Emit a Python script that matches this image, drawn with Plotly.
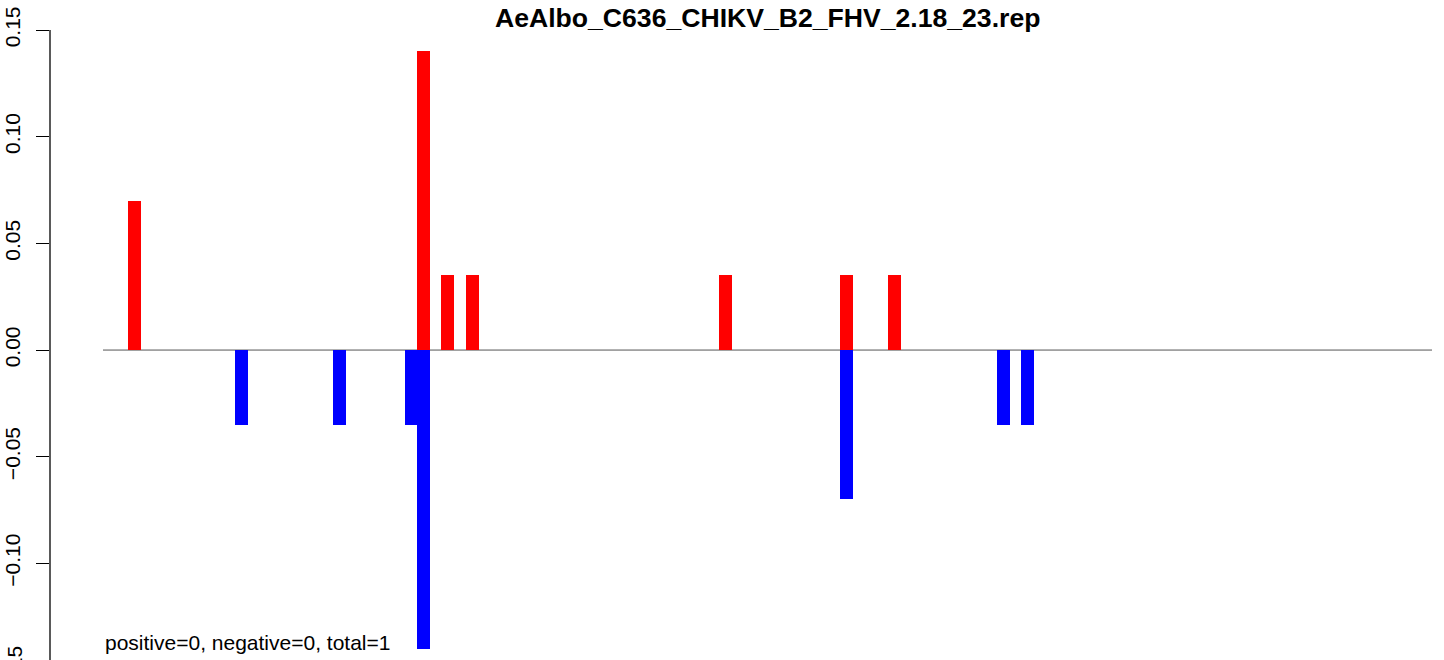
import plotly.graph_objects as go

title = "AeAlbo_C636_CHIKV_B2_FHV_2.18_23.rep"
note = "positive=0, negative=0, total=1"
seq_len = 1400

pos_x = [33, 338, 363, 389, 656, 783, 834]
pos_y = [0.07, 0.14, 0.035, 0.035, 0.035, 0.035, 0.035]
neg_x = [146, 249, 325, 338, 783, 949, 974]
neg_y = [-0.035, -0.035, -0.035, -0.14, -0.07, -0.035, -0.035]

y_ticks = [-0.15, -0.10, -0.05, 0.00, 0.05, 0.10, 0.15]
y_ticktext = ["\u22120.15", "\u22120.10", "\u22120.05", "0.00", "0.05", "0.10", "0.15"]

bar_w = 13.7
font = "Liberation Sans, Arial, Helvetica, sans-serif"

fig = go.Figure()
fig.add_trace(go.Bar(x=pos_x, y=pos_y, width=bar_w, marker=dict(color="#FF0000", line=dict(width=0)),
                     showlegend=False, hoverinfo="x+y"))
fig.add_trace(go.Bar(x=neg_x, y=neg_y, width=bar_w, marker=dict(color="#0000FF", line=dict(width=0)),
                     showlegend=False, hoverinfo="x+y"))

# zero line along the sequence
fig.add_shape(type="line", x0=0, x1=seq_len, y0=0, y1=0, xref="x", yref="y",
              line=dict(color="#555555", width=1), layer="below")
# y axis line from first to last tick
fig.add_shape(type="line", x0=0, x1=0, y0=-0.15, y1=0.15, xref="paper", yref="y",
              line=dict(color="black", width=1.3), layer="above")

fig.add_annotation(text="<b>" + title + "</b>", xref="paper", yref="paper",
                   x=(768 - 50) / 1394, y=(660 - 18) / 660, xanchor="center", yanchor="middle",
                   showarrow=False, font=dict(family=font, size=26.6, color="black"))
fig.add_annotation(text=note, xref="x", yref="paper", x=0, y=(660 - 642) / 660,
                   xanchor="left", yanchor="middle", showarrow=False,
                   font=dict(family=font, size=21, color="black"))
# partially visible bottom tick label (below the window in the original)
fig.add_annotation(text=y_ticktext[0], xref="paper", yref="paper", x=-36 / 1394,
                   y=(660 - 673) / 660, xanchor="center", yanchor="middle", textangle=-90,
                   showarrow=False, font=dict(family=font, size=21, color="black"))

px_per_unit = 1329 / seq_len
fig.update_layout(
    width=1444, height=660,
    margin=dict(l=50, r=0, t=0, b=0, autoexpand=False),
    plot_bgcolor="white", paper_bgcolor="white",
    barmode="overlay", bargap=0,
    font=dict(family=font, size=21, color="black"),
    xaxis=dict(range=[(50 - 103) / px_per_unit, (1444 - 103) / px_per_unit], visible=False,
               showgrid=False, zeroline=False, automargin=False),
    yaxis=dict(range=[-0.1453, 0.1641], tickvals=y_ticks[1:], ticktext=y_ticktext[1:],
               ticks="outside", ticklen=13, tickwidth=1.3, tickcolor="black",
               tickangle=-90, showline=False, showgrid=False, zeroline=False,
               automargin=False, ticklabelstandoff=8,
               tickfont=dict(family=font, size=21, color="black")),
)
fig.write_html("out.html", config={"displayModeBar": False},
               post_script="document.body.style.margin='0';document.body.style.overflow='hidden';")
